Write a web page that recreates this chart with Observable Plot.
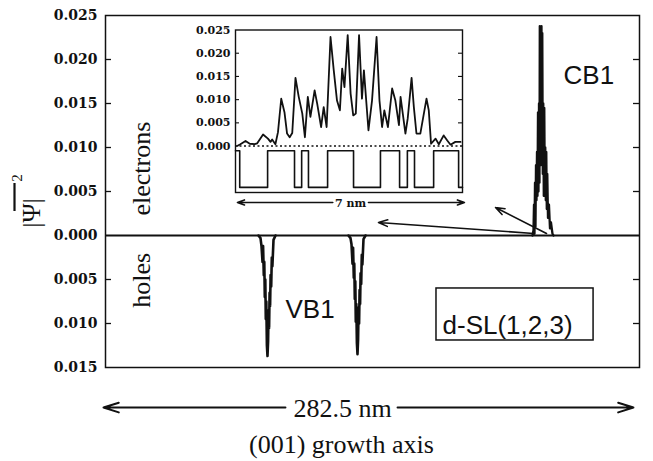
<!DOCTYPE html>
<html>
<head>
<meta charset="utf-8">
<script src="https://cdn.jsdelivr.net/npm/d3@7"></script>
<script src="https://cdn.jsdelivr.net/npm/@observablehq/plot@0.6"></script>
<style>
  html, body { margin: 0; padding: 0; background: #fff; }
  #wrap { position: relative; width: 653px; height: 461px; overflow: hidden; }
  #wrap svg { position: absolute; }
</style>
</head>
<body>
<div id="wrap"></div>
<script>
// ---------- main panel data (x in nm along growth axis, y = |psi|^2, holes negative) ----------
const yTicks = [-0.015, -0.010, -0.005, 0, 0.005, 0.010, 0.015, 0.020, 0.025];
const yInnerTicks = [-0.010, -0.005, 0.005, 0.010, 0.015, 0.020];

// CB1 electron state (localized spike)
const cbX = [225.89,226.42,226.68,226.95,227.21,227.48,227.74,228.01,228.27,228.53,228.80,229.06,229.33,229.59,229.75,229.96,230.23,230.44,230.65,230.86,231.07,231.34,231.60,231.87,232.13,232.40,232.66,232.92,233.19,233.45,233.72,234.09,234.61,235.14,235.67,236.46,236.99];
const cbY = [0,0.0006,0.0035,0.0002,0.0060,0.0010,0.0080,0.0040,0.0095,0.0045,0.0140,0.0050,0.0150,0.0060,0.0238,0.0100,0.0236,0.0080,0.0238,0.0120,0.0230,0.0070,0.0150,0.0045,0.0145,0.0050,0.0100,0.0040,0.0095,0.0030,0.0070,0.0020,0.0035,0.0008,0.0015,0.0002,0];

// VB1 hole state: two localized spikes
const vbAX = [80.94,82.00,82.53,83.06,83.37,83.74,84.01,84.27,84.54,84.80,85.07,85.38,85.70,86.02,86.28,86.55,86.81,87.08,87.34,87.66,87.98,88.29,88.88,89.94];
const vbAY = [0,-0.0003,-0.0012,-0.0030,-0.0012,-0.0045,-0.0030,-0.0070,-0.0050,-0.0095,-0.0075,-0.0125,-0.0137,-0.0120,-0.0085,-0.0105,-0.0065,-0.0080,-0.0045,-0.0058,-0.0025,-0.0035,-0.0005,0];
const vbBX = [128.55,129.61,130.14,130.67,130.98,131.35,131.62,131.88,132.15,132.41,132.68,132.99,133.31,133.63,133.89,134.16,134.42,134.69,134.95,135.27,135.59,135.90,136.49,137.55];
const vbBY = [0,-0.0003,-0.0010,-0.0032,-0.0014,-0.0048,-0.0032,-0.0072,-0.0052,-0.0098,-0.0078,-0.0122,-0.0135,-0.0118,-0.0082,-0.0100,-0.0062,-0.0078,-0.0043,-0.0055,-0.0022,-0.0033,-0.0004,0];

// ---------- inset data (7 nm window around CB1) ----------
const insetX = [0.05,0.15,0.31,0.44,0.59,0.67,0.85,1.00,1.08,1.13,1.23,1.31,1.41,1.51,1.59,1.67,1.75,1.85,1.95,2.06,2.14,2.23,2.31,2.44,2.52,2.64,2.72,2.81,2.93,3.03,3.13,3.22,3.29,3.36,3.46,3.55,3.63,3.71,3.81,3.90,3.96,4.10,4.21,4.35,4.44,4.52,4.59,4.70,4.83,4.93,5.04,5.09,5.24,5.31,5.43,5.50,5.58,5.70,5.89,5.96,6.03,6.17,6.27,6.42,6.53,6.63,6.78,6.94];
const insetY = [0.0000,0.0004,0.0011,0.0005,0.0004,0.0006,0.0025,0.0016,0.0009,0.0014,0.0004,0.0030,0.0102,0.0073,0.0027,0.0019,0.0028,0.0147,0.0106,0.0070,0.0019,0.0106,0.0063,0.0120,0.0091,0.0041,0.0084,0.0041,0.0235,0.0163,0.0098,0.0077,0.0167,0.0127,0.0239,0.0113,0.0066,0.0070,0.0239,0.0102,0.0163,0.0034,0.0098,0.0235,0.0098,0.0041,0.0077,0.0041,0.0124,0.0098,0.0045,0.0106,0.0027,0.0059,0.0147,0.0084,0.0027,0.0027,0.0102,0.0077,0.0005,0.0016,0.0004,0.0023,0.0012,0.0003,0.0009,0.0009];
const insetTicks = [0, 0.005, 0.010, 0.015, 0.020, 0.025];
const insetInnerTicks = [0.005, 0.010, 0.015, 0.020];
// layer profile (1 = barrier, 0 = well), edges in nm
const layerX = [0, 0.13, 0.99, 1.82, 2.04, 2.25, 2.84, 3.64, 4.47, 5.06, 5.30, 5.52, 6.11, 6.88, 7.0];
const layerLevel = [1, 0, 1, 0, 1, 0, 1, 0, 1, 0, 1, 0, 1, 0, 0];

// ---------- build tables ----------
const zip = (xs, ys) => xs.map((x, i) => ({x, y: ys[i]}));
const cb = zip(cbX, cbY), vbA = zip(vbAX, vbAY), vbB = zip(vbBX, vbBY);
const insetData = zip(insetX, insetY);
const layerData = layerX.map((x, i) => ({x, y: layerLevel[i] ? -0.0010 : -0.0089}));

const serifTick = "DejaVu Serif";
const black = "#111";

const fmt = d => Math.abs(d).toFixed(3);

const main = Plot.plot({
  width: 653, height: 461,
  marginLeft: 105, marginRight: 14, marginTop: 15, marginBottom: 94,
  x: {domain: [0, 282.5], axis: null},
  y: {domain: [-0.015, 0.025], axis: null},
  style: {background: "transparent", color: black},
  marks: [
    Plot.frame({stroke: black, strokeWidth: 1.5}),
    Plot.ruleY([0], {stroke: black, strokeWidth: 2}),
    Plot.tickY(yInnerTicks, {y: d => d, insetRight: 534 - 6, stroke: black, strokeWidth: 1.3}),
    Plot.tickY(yInnerTicks, {y: d => d, insetLeft: 534 - 6, stroke: black, strokeWidth: 1.3}),
    Plot.axisY(yTicks, {label: null, tickSize: 0, tickPadding: 8, tickFormat: fmt, fontFamily: serifTick, fontWeight: "bold", fontSize: 14, fill: black}),
    Plot.line(vbA, {x: "x", y: "y", stroke: black, strokeWidth: 2.6, strokeLinejoin: "round"}),
    Plot.line(vbB, {x: "x", y: "y", stroke: black, strokeWidth: 2.6, strokeLinejoin: "round"}),
    Plot.line(cb, {x: "x", y: "y", stroke: black, strokeWidth: 2.3, strokeLinejoin: "round"}),
    Plot.arrow([{x1: 226.42, y1: 0.00023, x2: 144.42, y2: 0.00148}, {x1: 233.30, y1: 0.00023, x2: 206.32, y2: 0.00318}],
      {x1: "x1", y1: "y1", x2: "x2", y2: "y2", stroke: black, strokeWidth: 1.6, headLength: 9, headAngle: 40}),
    Plot.text(["electrons"], {x: 19.0, y: 0.0076, rotate: -90, fontFamily: "Liberation Serif", fontSize: 26, fill: black, textAnchor: "middle", lineAnchor: "middle"}),
    Plot.text(["holes"], {x: 19.0, y: -0.0051, rotate: -90, fontFamily: "Liberation Serif", fontSize: 26, fill: black, textAnchor: "middle", lineAnchor: "middle"}),
    Plot.text(["CB1"], {x: 242.3, y: 0.01727, fontFamily: "Liberation Sans", fontSize: 26, fill: black, textAnchor: "start", lineAnchor: "bottom"}),
    Plot.text(["VB1"], {x: 95.2, y: -0.00932, fontFamily: "Liberation Sans", fontSize: 26, fill: black, textAnchor: "start", lineAnchor: "bottom"}),
    Plot.rect([{x1: 175.1, x2: 258.2, y1: -0.00602, y2: -0.01193}], {x1: "x1", x2: "x2", y1: "y1", y2: "y2", fill: "none", stroke: black, strokeWidth: 1.5}),
    Plot.text(["d-SL(1,2,3)"], {x: 178.3, y: -0.01114, fontFamily: "Liberation Sans", fontSize: 26, fill: black, textAnchor: "start", lineAnchor: "bottom"}),
    // growth-axis scale bar below the frame
    Plot.arrow([{x1: 95.2, x2: -1.06}, {x1: 154.5, x2: 279.3}], {x1: "x1", x2: "x2", y1: -0.01955, y2: -0.01955, stroke: black, strokeWidth: 2, headLength: 12, headAngle: 35}),
    Plot.text(["282.5 nm"], {x: 125.4, y: -0.02068, fontFamily: "Liberation Serif", fontSize: 26, fill: black, textAnchor: "middle", lineAnchor: "bottom"}),
    Plot.text(["(001) growth axis"], {x: 124.8, y: -0.02477, fontFamily: "Liberation Serif", fontSize: 26, fill: black, textAnchor: "middle", lineAnchor: "bottom"})
  ]
});

const inset = Plot.plot({
  width: 290, height: 195,
  marginLeft: 55, marginRight: 8, marginTop: 9.5, marginBottom: 23,
  x: {domain: [0, 7], axis: null},
  y: {domain: [-0.010, 0.025], axis: null},
  style: {background: "transparent", color: black, overflow: "visible"},
  marks: [
    Plot.frame({stroke: black, strokeWidth: 1.4}),
    Plot.tickY(insetInnerTicks, {y: d => d, insetRight: 227 - 4, stroke: black, strokeWidth: 1.1}),
    Plot.tickY(insetInnerTicks, {y: d => d, insetLeft: 227 - 4, stroke: black, strokeWidth: 1.1}),
    Plot.axisY(insetTicks, {label: null, tickSize: 0, tickPadding: 5, tickFormat: d => d.toFixed(3), fontFamily: serifTick, fontWeight: "bold", fontSize: 11, fill: black}),
    Plot.ruleY([0], {stroke: black, strokeWidth: 1.5, strokeDasharray: "2,2.5"}),
    Plot.line(layerData, {x: "x", y: "y", curve: "step-after", stroke: black, strokeWidth: 1.6}),
    Plot.line(insetData, {x: "x", y: "y", stroke: black, strokeWidth: 1.8, strokeLinejoin: "round"}),
    Plot.arrow([{x1: 3.0, x2: 0.06}, {x1: 4.1, x2: 7.06}], {x1: "x1", x2: "x2", y1: -0.01215, y2: -0.01215, stroke: black, strokeWidth: 1.6, headLength: 7, headAngle: 40}),
    Plot.text(["7 nm"], {x: 3.55, y: -0.01322, fontFamily: serifTick, fontWeight: "bold", fontSize: 11, fill: black, textAnchor: "middle", lineAnchor: "bottom"})
  ]
});

const wrap = document.getElementById("wrap");
main.style.left = "0px"; main.style.top = "0px";
inset.style.left = "180px"; inset.style.top = "20px";
wrap.appendChild(main);
wrap.appendChild(inset);

// y-axis title: overlined |Psi| squared
const svg = d3.select(main);
svg.append("text")
  .attr("transform", "translate(40,213) rotate(-90)")
  .attr("font-family", "Liberation Serif").attr("font-size", 26).attr("fill", black)
  .text("|\u03A8|");
svg.append("line").attr("x1", 14.5).attr("x2", 14.5).attr("y1", 183).attr("y2", 211)
  .attr("stroke", black).attr("stroke-width", 2.2);
svg.append("text")
  .attr("transform", "translate(22,178) rotate(-90)")
  .attr("font-family", "Liberation Serif").attr("font-size", 15).attr("fill", black)
  .text("2");
</script>
</body>
</html>
